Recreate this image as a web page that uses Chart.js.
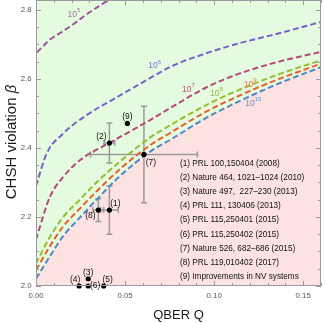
<!DOCTYPE html>
<html>
<head>
<meta charset="utf-8">
<script src="https://cdn.jsdelivr.net/npm/chart.js@4.4.0/dist/chart.umd.min.js"></script>
<style>
  html, body { margin: 0; padding: 0; background: #fff; }
  canvas { display: block; }
</style>
</head>
<body>
<canvas id="chsh" width="325" height="323"></canvas>
<script>
// threshold curves (QBER, CHSH value), one per block length
const q1e5 = [0, 0, 0.0078, 0.019, 0.0293, 0.039, 0.0405];
const s1e5 = [2.0, 2.674, 2.714, 2.751, 2.79, 2.823, 2.8284];
const q1e6 = [0, 0.006, 0.0153, 0.0284, 0.0424, 0.0582, 0.0768, 0.0955, 0.114, 0.1365, 0.16];
const s1e6 = [2.29, 2.384, 2.442, 2.495, 2.538, 2.585, 2.638, 2.674, 2.703, 2.732, 2.765];
const q1e7 = [0, 0.0078, 0.0153, 0.0246, 0.0396, 0.0526, 0.0638, 0.0768, 0.0955, 0.114, 0.1365, 0.16];
const s1e7 = [2.135, 2.258, 2.316, 2.364, 2.41, 2.447, 2.48, 2.52, 2.575, 2.615, 2.65, 2.678];
const qLow = [0, 0.0078, 0.0153, 0.0246, 0.034, 0.047, 0.0638, 0.0768, 0.0955, 0.114, 0.1356, 0.16];
const s1e8 = [2.065, 2.142, 2.2, 2.25, 2.3, 2.36, 2.429, 2.47, 2.524, 2.568, 2.612, 2.654];
const s1e9 = [2.046, 2.115, 2.173, 2.224, 2.274, 2.338, 2.407, 2.448, 2.505, 2.551, 2.598, 2.644];
const s1e15 = [2.021, 2.086, 2.145, 2.198, 2.25, 2.318, 2.388, 2.428, 2.487, 2.535, 2.585, 2.634];

// experiments
const expNames = ['(1)', '(2)', '(3)', '(4)', '(5)', '(6)', '(7)', '(8)', '(9)'];
const expQ = [0.0412, 0.0412, 0.0293, 0.0242, 0.038, 0.0293, 0.0606, 0.035, 0.0513];
const expS = [2.22, 2.414, 2.021, 2.0, 2.0, 2.0, 2.381, 2.22, 2.471];
const expQerr = [0.005, 0.003, 0, 0, 0, 0, 0.030, 0.003, 0];
const expSerr = [0.07, 0.058, 0, 0, 0, 0, 0.14, 0.033, 0];
const refs = [
  '(1) PRL 100,150404 (2008)',
  '(2) Nature 464, 1021\u20131024 (2010)',
  '(3) Nature 497,  227\u2013230 (2013)',
  '(4) PRL 111, 130406 (2013)',
  '(5) PRL 115,250401 (2015)',
  '(6) PRL 115,250402 (2015)',
  '(7) Nature 526, 682\u2013686 (2015)',
  '(8) PRL 119,010402 (2017)',
  '(9) Improvements in NV systems'
];

const xTicks = [0, 0.05, 0.10, 0.15];
const yTicks = [2.0, 2.2, 2.4, 2.6, 2.8];

// label offsets (px) of the experiment markers
const nameOffset = [[6, -6], [-8, -6], [0, -6], [-4, -6], [4, -6], [7, 0], [7, 8], [-8, 6], [0, -7]];
// curve names, placed in data coordinates
const curveTags = [
  { exp: '5', q: 0.0213, s: 2.79, color: '#b06eb0' },
  { exp: '6', q: 0.0666, s: 2.64, color: '#7f76c9' },
  { exp: '7', q: 0.0856, s: 2.573, color: '#b5567f' },
  { exp: '8', q: 0.1013, s: 2.561, color: '#97b548' },
  { exp: '9', q: 0.1203, s: 2.587, color: '#e87a4c' },
  { exp: '15', q: 0.122, s: 2.532, color: '#6b8bc6' }
];

const FONT = '"Liberation Sans", Arial, sans-serif';
const GREEN = '#e5fbdf';
const PINK = '#fde2e2';

function pts(qs, ss) {
  return qs.map((q, i) => ({ x: q, y: ss[i] }));
}

function curve(qs, ss, color, extra) {
  return Object.assign({
    data: pts(qs, ss),
    showLine: true,
    borderColor: color,
    borderWidth: 2,
    borderDash: [6, 3],
    pointRadius: 0,
    fill: false,
    cubicInterpolationMode: 'monotone'
  }, extra || {});
}

const background = {
  id: 'background',
  beforeDraw(chart) {
    const { ctx, chartArea: a } = chart;
    ctx.save();
    ctx.fillStyle = GREEN;
    ctx.fillRect(a.left, a.top, a.right - a.left, a.bottom - a.top);
    ctx.restore();
  }
};

const errorBars = {
  id: 'errorBars',
  beforeDatasetsDraw(chart) {
    const { ctx, scales: { x, y } } = chart;
    ctx.save();
    ctx.strokeStyle = '#9a9a9a';
    ctx.lineWidth = 1.5;
    const cap = 3;
    expQ.forEach((q, i) => {
      const px = x.getPixelForValue(q), py = y.getPixelForValue(expS[i]);
      ctx.beginPath();
      if (expSerr[i] > 0) {
        const y1 = y.getPixelForValue(expS[i] + expSerr[i]);
        const y2 = y.getPixelForValue(expS[i] - expSerr[i]);
        ctx.moveTo(px, y1); ctx.lineTo(px, y2);
        ctx.moveTo(px - cap, y1); ctx.lineTo(px + cap, y1);
        ctx.moveTo(px - cap, y2); ctx.lineTo(px + cap, y2);
      }
      if (expQerr[i] > 0) {
        const x1 = x.getPixelForValue(q - expQerr[i]);
        const x2 = x.getPixelForValue(q + expQerr[i]);
        ctx.moveTo(x1, py); ctx.lineTo(x2, py);
        ctx.moveTo(x1, py - cap); ctx.lineTo(x1, py + cap);
        ctx.moveTo(x2, py - cap); ctx.lineTo(x2, py + cap);
      }
      ctx.stroke();
    });
    ctx.restore();
  }
};

const decorations = {
  id: 'decorations',
  afterDraw(chart) {
    const { ctx, chartArea: a, scales: { x, y } } = chart;
    ctx.save();

    // frame with inward ticks on all four sides
    ctx.strokeStyle = '#9a9a9a';
    ctx.lineWidth = 1;
    ctx.strokeRect(a.left + 0.5, a.top + 0.5, a.right - a.left - 1, a.bottom - a.top - 1);
    ctx.beginPath();
    for (let k = 0; k <= 16; k++) {
      const px = Math.round(x.getPixelForValue(k / 100)) + 0.5;
      const len = k % 5 === 0 ? 5 : 3;
      ctx.moveTo(px, a.bottom); ctx.lineTo(px, a.bottom - len);
      ctx.moveTo(px, a.top); ctx.lineTo(px, a.top + len);
    }
    for (let k = 0; k <= 16; k++) {
      const py = Math.round(y.getPixelForValue(2 + k * 0.05)) + 0.5;
      const len = k % 4 === 0 ? 5 : 3;
      ctx.moveTo(a.left, py); ctx.lineTo(a.left + len, py);
      ctx.moveTo(a.right, py); ctx.lineTo(a.right - len, py);
    }
    ctx.stroke();

    // tick labels
    ctx.fillStyle = '#555';
    ctx.font = '7.8px ' + FONT;
    ctx.textBaseline = 'middle';
    ctx.textAlign = 'center';
    xTicks.forEach(v => ctx.fillText(v.toFixed(2), x.getPixelForValue(v), a.bottom + 10));
    ctx.textAlign = 'right';
    yTicks.forEach(v => ctx.fillText(v.toFixed(1), a.left - 4.5, y.getPixelForValue(v)));

    // curve names
    curveTags.forEach(t => {
      const px = x.getPixelForValue(t.q), py = y.getPixelForValue(t.s);
      ctx.fillStyle = t.color;
      ctx.font = '8.5px ' + FONT;
      ctx.textBaseline = 'middle';
      ctx.textAlign = 'left';
      const w = ctx.measureText('10').width;
      ctx.font = '6px ' + FONT;
      const we = ctx.measureText(t.exp).width;
      const x0 = px - (w + we) / 2;
      ctx.font = '8.5px ' + FONT;
      ctx.fillText('10', x0, py + 1);
      ctx.font = '6px ' + FONT;
      ctx.fillText(t.exp, x0 + w, py - 3);
    });

    // experiment names
    ctx.fillStyle = '#111';
    ctx.font = '8.5px ' + FONT;
    ctx.textAlign = 'center';
    ctx.textBaseline = 'middle';
    expNames.forEach((n, i) => {
      const px = x.getPixelForValue(expQ[i]), py = y.getPixelForValue(expS[i]);
      ctx.fillText(n, px + nameOffset[i][0], py + nameOffset[i][1]);
    });

    // reference list
    ctx.textAlign = 'left';
    ctx.font = '8.2px ' + FONT;
    refs.forEach((r, i) => ctx.fillText(r, 180, 164 + i * 14.05));

    // axis titles
    ctx.fillStyle = '#1a1a1a';
    ctx.font = '13px ' + FONT;
    ctx.textAlign = 'center';
    ctx.fillText('QBER Q', (a.left + a.right) / 2, 315);

    ctx.translate(12, 142);
    ctx.rotate(-Math.PI / 2);
    const main = 'CHSH violation ';
    ctx.font = '15px ' + FONT;
    const w1 = ctx.measureText(main).width;
    ctx.font = 'italic 15px ' + FONT;
    const w2 = ctx.measureText('\u03b2').width;
    ctx.textAlign = 'left';
    ctx.font = '15px ' + FONT;
    ctx.fillText(main, -(w1 + w2) / 2, 0);
    ctx.font = 'italic 15px ' + FONT;
    ctx.fillText('\u03b2', -(w1 + w2) / 2 + w1, 0);
    ctx.restore();
  }
};

const ctx = document.getElementById('chsh').getContext('2d');
new Chart(ctx, {
  type: 'scatter',
  data: {
    datasets: [
      {
        data: pts(expQ, expS),
        pointRadius: 2.6,
        pointBackgroundColor: '#000',
        pointBorderWidth: 0,
        showLine: false,
        clip: false
      },
      curve(q1e5, s1e5, '#a154a4', { cubicInterpolationMode: 'default', tension: 0 }),
      curve(q1e6, s1e6, '#7563c9'),
      curve(q1e7, s1e7, '#b8467a'),
      curve(qLow, s1e8, '#98bc32'),
      curve(qLow, s1e9, '#ec5d2c'),
      curve(qLow, s1e15, '#5584c8', { fill: 'start', backgroundColor: PINK })
    ]
  },
  options: {
    responsive: false,
    devicePixelRatio: 1,
    animation: false,
    events: [],
    layout: { autoPadding: false, padding: { left: 0, right: 4, top: 0, bottom: 0 } },
    plugins: {
      legend: { display: false },
      tooltip: { enabled: false },
      filler: { drawTime: 'beforeDatasetsDraw' }
    },
    scales: {
      x: {
        type: 'linear',
        min: 0,
        max: 0.16,
        afterFit: s => { s.height = 37; },
        grid: { display: false, drawTicks: false },
        border: { display: false },
        ticks: { display: false }
      },
      y: {
        type: 'linear',
        min: 2.0,
        max: 2 * Math.SQRT2,
        afterFit: s => { s.width = 36; },
        grid: { display: false, drawTicks: false },
        border: { display: false },
        ticks: { display: false }
      }
    }
  },
  plugins: [background, errorBars, decorations]
});
</script>
</body>
</html>
